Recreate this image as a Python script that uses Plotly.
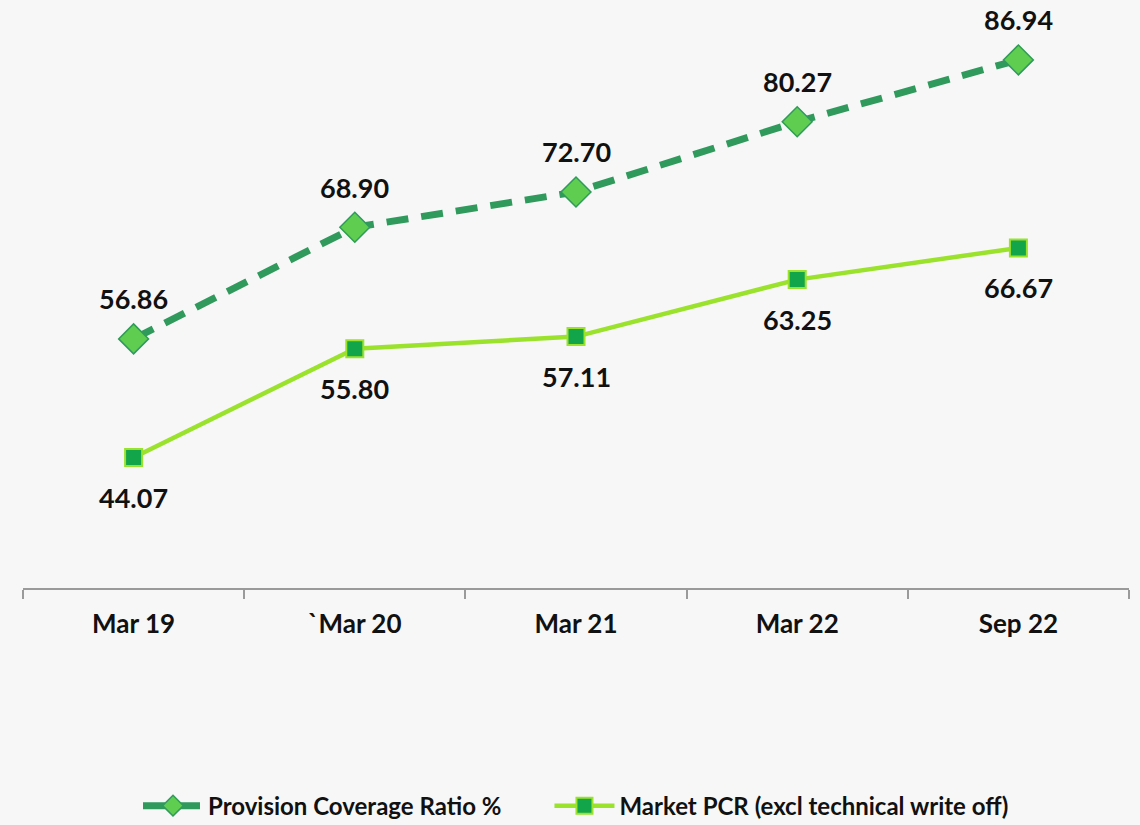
import plotly.graph_objects as go

# Data
periods = ["Mar 19", "`Mar 20", "Mar 21", "Mar 22", "Sep 22"]
pcr = [56.86, 68.90, 72.70, 80.27, 86.94]
market_pcr = [44.07, 55.80, 57.11, 63.25, 66.67]

DARK_GREEN = "#2f9a5c"
LIGHT_GREEN = "#5fcd4f"
LIME = "#9ae22c"
SQUARE_FILL = "#12a54a"
BG = "#f7f7f7"
FONT = "Lato, 'Open Sans', Arial, sans-serif"

fig = go.Figure()

fig.add_trace(go.Scatter(
    x=periods, y=pcr, mode="lines+markers",
    name="<b>Provision Coverage Ratio %</b>" + "&nbsp;" * 7,
    line=dict(color=DARK_GREEN, width=7, dash="22px,13px"),
    marker=dict(symbol="diamond", size=23, color=LIGHT_GREEN,
                line=dict(color=DARK_GREEN, width=1.5)),
))

fig.add_trace(go.Scatter(
    x=periods, y=market_pcr, mode="lines+markers",
    name="<b>Market PCR (excl technical write off)</b>",
    line=dict(color=LIME, width=4.5),
    marker=dict(symbol="square", size=17, color=SQUARE_FILL,
                line=dict(color=LIME, width=2)),
))

# data labels
for p, v in zip(periods, pcr):
    fig.add_annotation(x=p, y=v, text=f"<b>{v:.2f}</b>", showarrow=False,
                       yshift=40, font=dict(size=27, color="#111111", family=FONT))
for p, v in zip(periods, market_pcr):
    fig.add_annotation(x=p, y=v, text=f"<b>{v:.2f}</b>", showarrow=False,
                       yshift=-40, font=dict(size=27, color="#111111", family=FONT))

fig.update_layout(
    width=1140, height=825,
    margin=dict(l=23, r=11, t=10, b=237, autoexpand=False),
    paper_bgcolor=BG, plot_bgcolor=BG,
    font=dict(family=FONT, color="#111111"),
    showlegend=True,
    legend=dict(orientation="h", x=0.5, xanchor="center", yref="container",
                y=0.023, yanchor="middle",
                font=dict(size=24, family=FONT, color="#111111"),
                bgcolor="rgba(0,0,0,0)", itemwidth=60),
)
fig.update_xaxes(
    type="category", range=[-0.5, 4.5],
    showline=True, linecolor="#9a9a9a", linewidth=1.5,
    ticks="outside", tickson="boundaries", ticklen=9, tickcolor="#9a9a9a", tickwidth=1.5,
    showgrid=False, zeroline=False,
    tickfont=dict(size=26, family=FONT, color="#111111"),
    tickprefix="<b>", ticksuffix="</b>", ticklabelstandoff=12,
)
fig.update_yaxes(range=[30, 92.32], visible=False, showgrid=False, zeroline=False)

fig.write_html("out.html", config={"displayModeBar": False},
               post_script="document.body.style.margin='0';")
